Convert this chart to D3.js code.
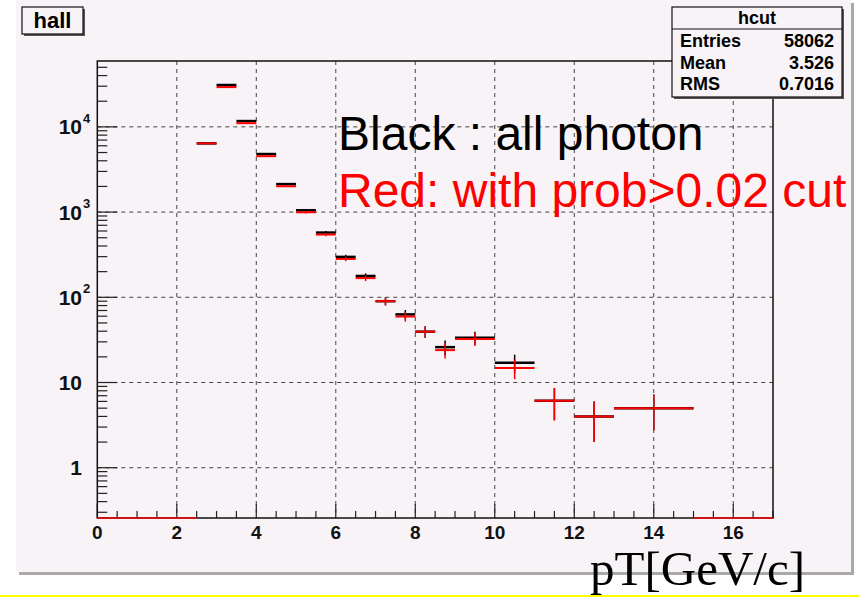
<!DOCTYPE html>
<html><head><meta charset="utf-8">
<script src="https://cdn.jsdelivr.net/npm/d3@7"></script>
<style>html,body{margin:0;padding:0;background:#fff;}svg{display:block;}</style>
</head><body>
<svg id="c" width="859" height="597"></svg>
<script>
// ---- data ----
const binLo = [2.5, 3, 3.5, 4, 4.5, 5, 5.5, 6, 6.5, 7, 7.5, 8, 8.5, 9, 10, 11, 12, 13];
const binHi = [3, 3.5, 4, 4.5, 5, 5.5, 6, 6.5, 7, 7.5, 8, 8.5, 9, 10, 11, 12, 13, 15];
const hall    = [6400, 31000, 11700, 4800, 2130, 1050, 575, 298, 178, 90, 63, 39.5, 26, 33.5, 17.1, 6.1, 4, 5];
const hallErr = [80, 176, 108, 69, 46, 32, 24, 17, 13, 9.5, 7.9, 6.3, 5.1, 5.8, 4.1, 2.5, 2, 2.24];
const hcut    = [6400, 29300, 11050, 4530, 2010, 995, 545, 282, 168, 90, 59.5, 39.5, 24, 32.5, 14.8, 6.1, 4, 5];
const hcutErr = [80, 171, 105, 67, 45, 32, 23, 17, 13, 9.5, 7.7, 6.3, 4.9, 5.7, 3.85, 2.5, 2, 2.24];
const xTicks = [0, 2, 4, 6, 8, 10, 12, 14, 16];
const yTicks = [1, 10, 100, 1000, 10000];
const yTickLabels = [["1", ""], ["10", ""], ["10", "2"], ["10", "3"], ["10", "4"]];
const statNames = ["Entries", "Mean", "RMS"];
const statValues = ["58062", "3.526", "0.7016"];

const svg = d3.select("#c");
const bg = "#f7f3f7";
const sans = "'Liberation Sans', Arial, sans-serif";

// canvas + shadow
svg.append("rect").attr("x", 19).attr("y", 3).attr("width", 835).attr("height", 572).attr("fill", "#a9a9a9");
svg.append("rect").attr("x", 16).attr("y", 0).attr("width", 835).attr("height", 572).attr("fill", bg);
// yellow line at bottom
svg.append("line").attr("x1", 0).attr("x2", 859).attr("y1", 596).attr("y2", 596).attr("stroke", "#ffff00").attr("stroke-width", 2);

const L = 97.3, R = 773, T = 61, B = 518;
const x = d3.scaleLinear().domain([0, 17]).range([L, R]);
const y = d3.scaleLog().domain([0.257, 59300]).range([B, T]);

// grid
const g = svg.append("g");
g.selectAll(".vg").data(xTicks.filter(d => d > 0)).join("line")
  .attr("x1", d => x(d)).attr("x2", d => x(d)).attr("y1", T).attr("y2", B)
  .attr("stroke", "#444").attr("stroke-width", 1).attr("stroke-dasharray", "4,4");
g.selectAll(".hg").data(yTicks).join("line")
  .attr("x1", L).attr("x2", R).attr("y1", d => y(d)).attr("y2", d => y(d))
  .attr("stroke", "#444").attr("stroke-width", 1).attr("stroke-dasharray", "4,4");

// ticks: y
const yMinor = [];
for (let e = -1; e <= 4; e++) for (let m = 1; m <= 9; m++) {
  const v = m * Math.pow(10, e);
  if (v >= 0.26 && v <= 59000) yMinor.push(v);
}
g.selectAll(".yt").data(yMinor).join("line")
  .attr("x1", L).attr("x2", d => L + (yTicks.includes(d) ? 20 : 10))
  .attr("y1", d => y(d)).attr("y2", d => y(d))
  .attr("stroke", "#222").attr("stroke-width", 1.2);
// ticks: x
const xMinor = d3.range(0, 17.01, 0.5);
g.selectAll(".xt").data(xMinor).join("line")
  .attr("x1", d => x(d)).attr("x2", d => x(d))
  .attr("y1", B).attr("y2", d => B - (d % 2 === 0 ? 14 : 7))
  .attr("stroke", "#222").attr("stroke-width", 1.2);

// frame
svg.append("rect").attr("x", L).attr("y", T).attr("width", R - L).attr("height", B - T)
  .attr("fill", "none").attr("stroke", "#111").attr("stroke-width", 1.5);

// x labels
svg.selectAll(".xl").data(xTicks).join("text")
  .attr("x", d => x(d)).attr("y", 539).attr("text-anchor", "middle")
  .attr("font-family", sans).attr("font-weight", "bold").attr("font-size", 19)
  .attr("fill", "#111").text(d => d);
// y labels
const yl = svg.selectAll(".yl").data(yTicks).join("g");
yl.append("text").attr("x", 82).attr("y", d => y(d) + 7.5).attr("text-anchor", "end")
  .attr("font-family", sans).attr("font-weight", "bold").attr("font-size", 21).attr("fill", "#111")
  .text((d, i) => yTickLabels[i][0]);
yl.append("text").attr("x", 83).attr("y", d => y(d) - 4).attr("text-anchor", "start")
  .attr("font-family", sans).attr("font-weight", "bold").attr("font-size", 13).attr("fill", "#111")
  .text((d, i) => yTickLabels[i][1]);

// histograms
function drawHist(vals, errs, color, w) {
  const hg = svg.append("g");
  hg.selectAll("line.h").data(vals).join("line")
    .attr("x1", (d, i) => x(binLo[i])).attr("x2", (d, i) => x(binHi[i]))
    .attr("y1", d => y(d)).attr("y2", d => y(d))
    .attr("stroke", color).attr("stroke-width", w);
  hg.selectAll("line.e").data(vals).join("line")
    .attr("x1", (d, i) => x((binLo[i] + binHi[i]) / 2)).attr("x2", (d, i) => x((binLo[i] + binHi[i]) / 2))
    .attr("y1", (d, i) => y(d + errs[i])).attr("y2", (d, i) => y(Math.max(d - errs[i], 0.26)))
    .attr("stroke", color).attr("stroke-width", 1.5);
}
drawHist(hall, hallErr, "#000", 2.5);
drawHist(hcut, hcutErr, "#ff0000", 2);
// empty bins of hcut drawn at the bottom
svg.append("line").attr("x1", x(0)).attr("x2", x(binLo[0])).attr("y1", B).attr("y2", B)
  .attr("stroke", "#ff0000").attr("stroke-width", 1.6);
svg.append("line").attr("x1", x(binHi[binHi.length - 1])).attr("x2", x(17)).attr("y1", B).attr("y2", B)
  .attr("stroke", "#ff0000").attr("stroke-width", 1.6);

// title box "hall"
svg.append("rect").attr("x", 24).attr("y", 9).attr("width", 61).attr("height", 27).attr("fill", "#555");
svg.append("rect").attr("x", 22).attr("y", 7).attr("width", 61).attr("height", 27)
  .attr("fill", bg).attr("stroke", "#111").attr("stroke-width", 1.2);
svg.append("text").attr("x", 52.5).attr("y", 28).attr("text-anchor", "middle")
  .attr("font-family", sans).attr("font-weight", "bold").attr("font-size", 22).attr("fill", "#000").text("hall");

// stats box
const sx = 672, sy = 7, sw = 170, sh = 90;
svg.append("rect").attr("x", sx + 2).attr("y", sy + 2).attr("width", sw).attr("height", sh).attr("fill", "#555");
svg.append("rect").attr("x", sx).attr("y", sy).attr("width", sw).attr("height", sh)
  .attr("fill", bg).attr("stroke", "#111").attr("stroke-width", 1.2);
svg.append("line").attr("x1", sx).attr("x2", sx + sw).attr("y1", 29).attr("y2", 29).attr("stroke", "#111").attr("stroke-width", 1.2);
svg.append("text").attr("x", sx + sw / 2).attr("y", 24).attr("text-anchor", "middle")
  .attr("font-family", sans).attr("font-weight", "bold").attr("font-size", 18).text("hcut");
statNames.forEach((n, i) => {
  svg.append("text").attr("x", 680).attr("y", 47 + i * 21.7)
    .attr("font-family", sans).attr("font-weight", "bold").attr("font-size", 18).text(n);
  svg.append("text").attr("x", 834).attr("y", 47 + i * 21.7).attr("text-anchor", "end")
    .attr("font-family", sans).attr("font-weight", "bold").attr("font-size", 18).text(statValues[i]);
});

// annotations
svg.append("text").attr("x", 338).attr("y", 150).attr("font-family", sans).attr("font-size", 48)
  .attr("fill", "#000").text("Black : all photon");
svg.append("text").attr("x", 338).attr("y", 207).attr("font-family", sans).attr("font-size", 48)
  .attr("fill", "#ff0000").text("Red: with prob>0.02 cut");
svg.append("text").attr("x", 590).attr("y", 585)
  .attr("font-family", "'Liberation Serif', 'Times New Roman', serif").attr("font-size", 49)
  .attr("fill", "#000").text("pT[GeV/c]");
</script>
</body></html>
